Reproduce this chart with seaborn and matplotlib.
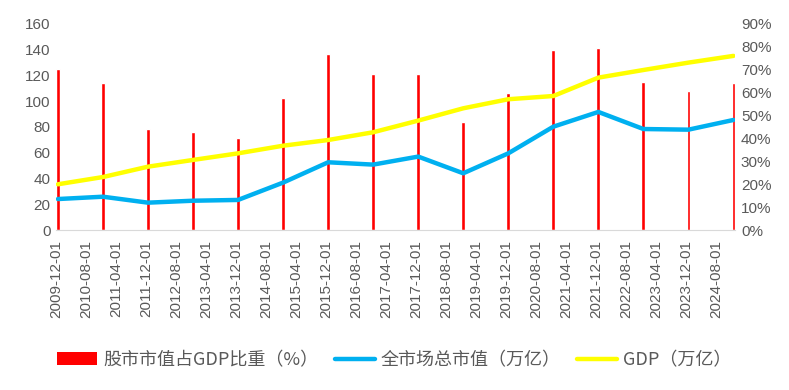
import matplotlib
matplotlib.use("Agg")
import matplotlib.pyplot as plt
from matplotlib.patches import Patch
from matplotlib.lines import Line2D
from matplotlib.ticker import FuncFormatter
import numpy as np
import pandas as pd
import seaborn as sns

sns.set_style("white")
plt.rcParams["font.family"] = ["Liberation Sans", "Noto Sans CJK SC", "DejaVu Sans"]
plt.rcParams["axes.unicode_minus"] = False

# 数据 (每年12月)
years = list(range(2009, 2025))
ratio_pct = [70.0, 64.2, 44.1, 42.8, 40.1, 57.7, 76.5, 67.8,
             67.8, 47.1, 59.9, 78.3, 79.2, 64.7, 60.7, 64.2]
market_cap = [24.3, 26.1, 21.5, 23.0, 23.6, 37.0, 52.7, 50.9,
              57.1, 44.2, 59.6, 80.2, 91.6, 78.4, 77.9, 85.4]
gdp = [35.7, 41.3, 49.3, 54.5, 59.6, 65.5, 69.9, 75.9,
       84.9, 94.4, 101.4, 103.9, 118.1, 124.0, 129.7, 134.9]

tick_dates = pd.date_range("2009-12-01", "2024-08-01", freq="8MS")
labels = ["股市市值占GDP比重（%）", "全市场总市值（万亿）", "GDP（万亿）"]

RED, BLUE, YELLOW = "#FF0000", "#00B0F0", "#FFFF00"
TXT, AXC = "#595959", "#D9D9D9"

start = pd.Timestamp("2009-12-01")
def month_idx(d):
    return (d.year - start.year) * 12 + (d.month - start.month)

df = pd.DataFrame({
    "date": pd.to_datetime([f"{y}-12-01" for y in years]),
    "ratio": ratio_pct,
    "cap": market_cap,
    "gdp": gdp,
})
df["pos"] = df["date"].apply(month_idx) + 0.5

fig = plt.figure(figsize=(7.89, 3.90), dpi=100)
ax = fig.add_axes([0.071, 0.409, 0.861, 0.531])  # bars, % axis on right
ax2 = ax.twinx()                                  # lines, value axis on left

sns.barplot(data=df, x="pos", y="ratio", native_scale=True, width=0.085,
            color=RED, saturation=1, ax=ax, errorbar=None)
sns.lineplot(data=df, x="pos", y="cap", color=BLUE, linewidth=3.2, ax=ax2)
sns.lineplot(data=df, x="pos", y="gdp", color=YELLOW, linewidth=3.2, ax=ax2)

ax.set_xlim(0, 181)
ax.set_ylim(0, 90)
ax2.set_ylim(0, 160)
ax.yaxis.tick_right()
ax.yaxis.set_label_position("right")
ax2.yaxis.tick_left()
ax2.yaxis.set_label_position("left")
ax.set_yticks(np.arange(0, 91, 10))
ax.yaxis.set_major_formatter(FuncFormatter(lambda v, p: f"{v:.0f}%"))
ax2.set_yticks(np.arange(0, 161, 20))

ax.set_xticks([month_idx(d) for d in tick_dates])
ax.set_xticklabels([d.strftime("%Y-%m-%d") for d in tick_dates], rotation=90)

for a in (ax, ax2):
    a.set_xlabel("")
    a.set_ylabel("")
    for s in a.spines.values():
        s.set_visible(False)
    a.tick_params(axis="y", length=0, labelsize=11, labelcolor=TXT, pad=4)
ax.spines["bottom"].set_visible(True)
ax.spines["bottom"].set_color(AXC)
ax.tick_params(axis="x", length=4, color=AXC, labelsize=11, labelcolor=TXT, pad=3)
ax2.tick_params(axis="x", length=0)

handles = [Patch(facecolor=RED, edgecolor="none"),
           Line2D([], [], color=BLUE, linewidth=3.2),
           Line2D([], [], color=YELLOW, linewidth=3.2)]
leg = fig.legend(handles, labels, loc="center", bbox_to_anchor=(0.5, 0.077),
                 ncol=3, frameon=False, handlelength=2.2,
                 handletextpad=0.35, columnspacing=0.9,
                 prop={"family": ["Noto Sans CJK SC"], "size": 13})
for t in leg.get_texts():
    t.set_color(TXT)

fig.savefig("out.png", dpi=100)
